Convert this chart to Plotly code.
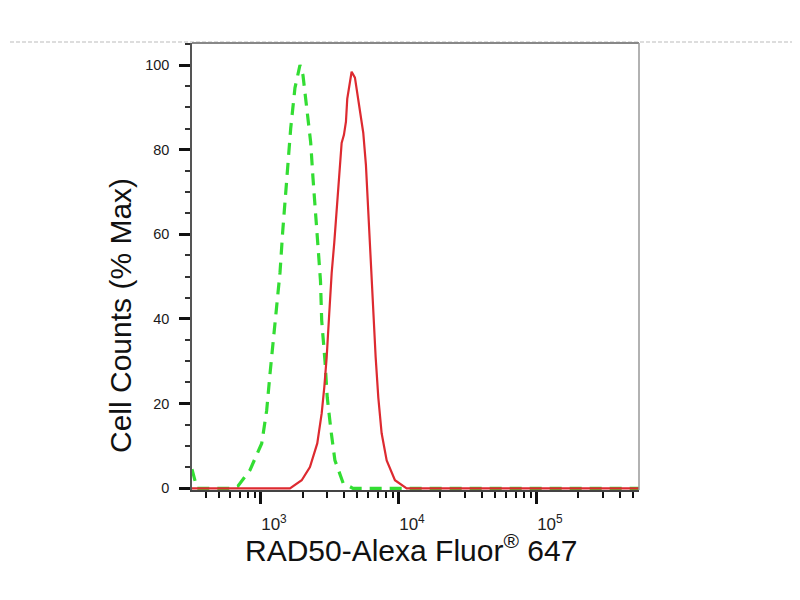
import plotly.graph_objects as go

# ---- data ----
# Isotype control (green, dashed): fluorescence intensity vs % max
ctrl_x = [316, 344, 450, 600, 680, 741, 832, 1012, 1100, 1162, 1227, 1300, 1374, 1436,
          1493, 1570, 1642, 1763, 1917, 2015, 2143, 2291, 2382, 2505, 2618, 2700, 2754,
          2911, 3022, 3214, 3435, 3945, 4645, 10000, 100000, 550000]
ctrl_y = [4.5, 0, 0, 0, 0.5, 2, 4.3, 10.6, 18.4, 27, 35, 43.7, 51, 60.5,
          67.6, 76, 85, 94.6, 100, 97.6, 90, 81.8, 73.3, 64.5, 55, 49, 39.7,
          30, 21.5, 13.7, 6.6, 1.2, 0, 0, 0, 0]

# RAD50 stained sample (red, solid)
rad50_x = [316, 1000, 1622, 1973, 2264, 2558, 2754, 2877, 2994, 3126, 3253, 3397, 3536,
           3693, 3843, 3993, 4129, 4220, 4539, 4797, 5156, 5512, 5763, 5961, 6163,
           6343, 6516, 6779, 7084, 7492, 8147, 9355, 11376, 100000, 550000]
rad50_y = [0, 0, 0, 1.9, 5, 10.6, 17.7, 23.9, 31, 41.4, 50.8, 58, 66,
           74, 81.6, 83.5, 86.6, 92, 98.4, 97, 90.5, 84, 76.4, 66.9, 59,
           51, 41.4, 31, 21.5, 13, 6.6, 1.9, 0, 0, 0]

x_tickvals = [1000, 10000, 100000]
x_ticktext = ["10<sup>3</sup>", "10<sup>4</sup>", "10<sup>5</sup>"]
x_minor = [m * 10 ** e for e in (2, 3, 4, 5) for m in range(2, 10)]
y_tickvals = [0, 20, 40, 60, 80, 100]
y_ticktext = ["0", "20", "40", "60", "80", "100"]

x_title = "RAD50-Alexa Fluor<sup>®</sup> 647"
y_title = "Cell Counts (% Max)"

FONT = "Arial, Liberation Sans, sans-serif"

fig = go.Figure()
fig.add_trace(go.Scatter(x=ctrl_x, y=ctrl_y, mode="lines",
                         line=dict(color="#33dd33", width=3.2, dash="12px,8px"),
                         showlegend=False, hoverinfo="skip"))
fig.add_trace(go.Scatter(x=rad50_x, y=rad50_y, mode="lines",
                         line=dict(color="#dd2a30", width=2.2),
                         showlegend=False, hoverinfo="skip"))

# the page puts the figure 8px in from the top-left corner; compensate
OFF = 8
W, H = 800, 600
PL, PT, PW, PH = 192 - OFF, 43 - OFF, 447, 447   # plot area in figure pixels
L, T = PL, PT
R, B = W - L - PW, H - T - PH


def px_x(x):   # page pixel -> paper x
    return (x - OFF - L) / PW


def px_y(y):   # page pixel -> paper y
    return (T + PH - (y - OFF)) / PH


fig.update_layout(
    width=W, height=H,
    margin=dict(l=L, r=R, t=T, b=B, pad=0),
    paper_bgcolor="white", plot_bgcolor="white",
    font=dict(family=FONT, color="#222"),
    xaxis=dict(type="log", range=[2.5, 5.74], showgrid=False, zeroline=False,
               showline=True, linecolor="#444", linewidth=1.5,
               tickvals=x_tickvals, ticktext=x_ticktext,
               ticks="outside", ticklen=12, tickwidth=3, tickcolor="#111",
               tickfont=dict(size=17, color="#222"),
               ticklabelshift=13, ticklabelstandoff=6,
               minor=dict(tickvals=x_minor, ticks="outside", ticklen=6,
                          tickwidth=1.5, tickcolor="#111", showgrid=False)),
    yaxis=dict(range=[-0.4, 105.2], showgrid=False, zeroline=False,
               showline=True, linecolor="#555", linewidth=1.5,
               tickvals=y_tickvals, ticktext=y_ticktext,
               ticks="outside", ticklen=11, tickwidth=3, tickcolor="#111",
               tickfont=dict(size=14.5, color="#1a1a1a"), ticklabelstandoff=7,
               minor=dict(dtick=5, ticks="outside", ticklen=5,
                          tickwidth=1.5, tickcolor="#333", showgrid=False)),
    shapes=[
        # light dashed line across the whole page at the top of the plot
        dict(type="line", xref="paper", yref="paper",
             x0=px_x(-20), x1=px_x(820), y0=px_y(42), y1=px_y(42),
             line=dict(color="#bbbbbb", width=1, dash="4px,2px"), layer="below"),
        # top border
        dict(type="line", xref="paper", yref="paper", x0=0, x1=1, y0=1, y1=1,
             line=dict(color="#888888", width=2)),
        # right border
        dict(type="line", xref="paper", yref="paper", x0=1, x1=1, y0=0, y1=1,
             line=dict(color="#999999", width=1.5)),
    ],
    annotations=[
        dict(text=x_title, xref="paper", yref="paper",
             x=px_x(411), y=px_y(548),
             xanchor="center", yanchor="middle", showarrow=False,
             font=dict(size=30, color="#111", family=FONT)),
        dict(text=y_title, xref="paper", yref="paper",
             x=px_x(120), y=px_y(316), textangle=-90,
             xanchor="center", yanchor="middle", showarrow=False,
             font=dict(size=30, color="#111", family=FONT)),
    ],
)

fig.write_html("out.html")
